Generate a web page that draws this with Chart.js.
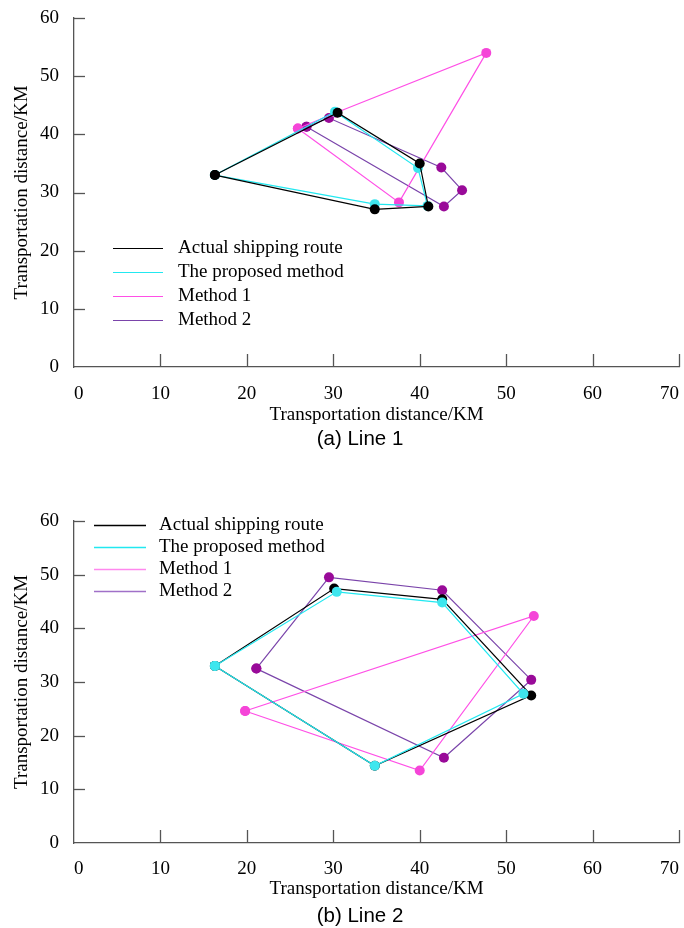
<!DOCTYPE html>
<html>
<head>
<meta charset="utf-8">
<script src="https://cdn.jsdelivr.net/npm/chart.js@4.4.1/dist/chart.umd.min.js"></script>
<style>
  html, body { margin: 0; padding: 0; background: #fff; }
  body { width: 684px; height: 928px; position: relative; overflow: hidden; }
  .wrap { position: absolute; left: 0; width: 684px; height: 430px; }
  .cap { position: absolute; left: 260px; width: 200px; text-align: center;
         font-family: 'Liberation Sans', Arial, sans-serif; font-size: 20.5px; line-height: 24px; color: #000; }
</style>
</head>
<body>
<div class="wrap" style="top:0px"><canvas id="c1" width="684" height="430"></canvas></div>
<div class="cap" style="top:426px">(a) Line 1</div>
<div class="wrap" style="top:480px"><canvas id="c2" width="684" height="430"></canvas></div>
<div class="cap" style="top:903px">(b) Line 2</div>
<script>
// ---------- data ----------
const seriesNames = ['Actual shipping route', 'The proposed method', 'Method 1', 'Method 2'];
const xTicks = [0, 10, 20, 30, 40, 50, 60, 70];
const yTicks = [0, 10, 20, 30, 40, 50, 60];
const axisTitle = 'Transportation distance/KM';

// (a) Line 1
const line1ActualX   = [16.3, 30.5, 40.0, 41.0, 34.8];
const line1ActualY   = [33.0, 43.7, 35.0, 27.6, 27.1];
const line1ProposedX = [16.3, 30.2, 39.8, 40.9, 34.8];
const line1ProposedY = [33.0, 43.9, 34.2, 27.7, 28.0];
const line1Method1X  = [25.9, 30.3, 47.7, 37.6];
const line1Method1Y  = [41.0, 43.7, 54.0, 28.3];
const line1Method2X  = [26.9, 29.5, 42.5, 44.9, 42.8];
const line1Method2Y  = [41.3, 42.8, 34.3, 30.4, 27.6];

// (b) Line 2
const line2ActualX   = [16.3, 30.1, 42.6, 52.9, 34.8];
const line2ActualY   = [33.0, 47.4, 45.4, 27.5, 14.4];
const line2ProposedX = [16.3, 30.4, 42.6, 52.0, 34.8];
const line2ProposedY = [33.0, 46.8, 44.8, 27.8, 14.4];
const line2Method1X  = [19.8, 53.2, 40.0];
const line2Method1Y  = [24.6, 42.3, 13.5];
const line2Method2X  = [21.1, 29.5, 42.6, 52.9, 42.8];
const line2Method2Y  = [32.5, 49.5, 47.1, 30.4, 15.9];

// ---------- styles ----------
const lineColors  = ['#000000', '#22e8f0', '#ff4fe6', '#7a44aa'];
const pointColors = ['#000000', '#3ee6ee', '#f545d8', '#990a99'];
const FONT = "'Liberation Serif', 'Times New Roman', serif";
Chart.defaults.font.family = FONT;
Chart.defaults.color = '#000';

function closed(xs, ys) {
  const pts = xs.map((x, i) => ({ x: x, y: ys[i] }));
  pts.push({ x: xs[0], y: ys[0] });
  return pts;
}

const inwardTicks = {
  id: 'inwardTicks',
  beforeDatasetsDraw(chart, args, opts) {
    const { ctx, chartArea, scales } = chart;
    const xs = scales.x, ys = scales.y;
    ctx.save();
    ctx.strokeStyle = '#555';
    ctx.lineWidth = 1.3;
    xs.ticks.forEach(t => {
      if (t.value === xs.min) return;
      const px = Math.round(xs.getPixelForValue(t.value)) + 0.5;
      ctx.beginPath();
      ctx.moveTo(px, chartArea.bottom);
      ctx.lineTo(px, chartArea.bottom - opts.xLen);
      ctx.stroke();
    });
    ys.ticks.forEach(t => {
      if (t.value === ys.min) return;
      const py = Math.round(ys.getPixelForValue(t.value)) + 0.5;
      ctx.beginPath();
      ctx.moveTo(chartArea.left, py);
      ctx.lineTo(chartArea.left + opts.yLen, py);
      ctx.stroke();
    });
    ctx.restore();
  }
};

const customLegend = {
  id: 'customLegend',
  afterDraw(chart, args, opts) {
    const { ctx } = chart;
    ctx.save();
    ctx.font = opts.fontSize + 'px ' + FONT;
    ctx.textBaseline = 'middle';
    ctx.fillStyle = '#000';
    opts.rows.forEach((rowY, i) => {
      ctx.strokeStyle = opts.colors[i];
      ctx.lineWidth = opts.lineWidth;
      ctx.beginPath();
      ctx.moveTo(opts.x0, rowY + 0.5);
      ctx.lineTo(opts.x1, rowY + 0.5);
      ctx.stroke();
      ctx.fillText(seriesNames[i], opts.textX, rowY);
    });
    ctx.restore();
  }
};

function makeChart(id, data, cfg) {
  const datasets = data.map((d, i) => ({
    label: seriesNames[i],
    data: closed(d[0], d[1]),
    showLine: true,
    borderColor: lineColors[i],
    borderWidth: 1.2,
    backgroundColor: pointColors[i],
    pointBackgroundColor: pointColors[i],
    pointBorderWidth: 0,
    pointRadius: 5,
    tension: 0,
    order: cfg.order[i]
  }));
  return new Chart(document.getElementById(id), {
    type: 'scatter',
    data: { datasets },
    options: {
      responsive: false,
      animation: false,
      events: [],
      layout: { padding: { top: cfg.top, right: 1, left: 0, bottom: 0 } },
      plugins: {
        legend: { display: false },
        tooltip: { enabled: false },
        inwardTicks: { xLen: 13, yLen: 11 },
        customLegend: cfg.legend
      },
      scales: {
        x: {
          type: 'linear', min: 0, max: 70,
          afterBuildTicks: s => { s.ticks = xTicks.map(v => ({ value: v })); },
          afterFit: s => { s.height = cfg.xHeight; s.paddingLeft = 0; s.paddingRight = 0; },
          grid: { display: false, drawTicks: false, tickLength: 0 },
          border: { display: true, color: '#555', width: 1.3 },
          ticks: { padding: cfg.xPad, align: 'inner', font: { size: 19 }, color: '#000', maxRotation: 0, autoSkip: false },
          title: { display: true, text: axisTitle, font: { size: 19 }, color: '#000', padding: { top: 0, bottom: cfg.xTitlePad } }
        },
        y: {
          type: 'linear', min: 0, max: 60,
          afterBuildTicks: s => { s.ticks = yTicks.map(v => ({ value: v })); },
          afterFit: s => { s.width = 74; s.paddingTop = 0; s.paddingBottom = 0; },
          grid: { display: false, drawTicks: false, tickLength: 0 },
          border: { display: true, color: '#555', width: 1.3 },
          ticks: { padding: 15, font: { size: 19 }, color: '#000', autoSkip: false },
          title: { display: true, text: axisTitle, font: { size: 19 }, color: '#000', padding: { top: 11, bottom: 0 } }
        }
      }
    },
    plugins: [inwardTicks, customLegend]
  });
}

makeChart('c1', [
  [line1ActualX, line1ActualY],
  [line1ProposedX, line1ProposedY],
  [line1Method1X, line1Method1Y],
  [line1Method2X, line1Method2Y]
], {
  top: 18, xHeight: 63, xPad: 16, xTitlePad: 4,
  order: [0, 1, 2, 3],
  legend: { x0: 113, x1: 163, textX: 178, rows: [248, 272, 296, 320], fontSize: 19, lineWidth: 1.2,
            colors: ['#000000', '#22e8f0', '#ff4fe6', '#7a44aa'] }
});

makeChart('c2', [
  [line2ActualX, line2ActualY],
  [line2ProposedX, line2ProposedY],
  [line2Method1X, line2Method1Y],
  [line2Method2X, line2Method2Y]
], {
  top: 41, xHeight: 67, xPad: 15, xTitlePad: 10,
  order: [1, 0, 2, 3],
  legend: { x0: 94, x1: 146, textX: 159, rows: [45, 67, 89, 111], fontSize: 19, lineWidth: 1.5,
            colors: ['#000000', '#22e8f0', '#ff88ee', '#a070c8'] }
});
</script>
</body>
</html>
